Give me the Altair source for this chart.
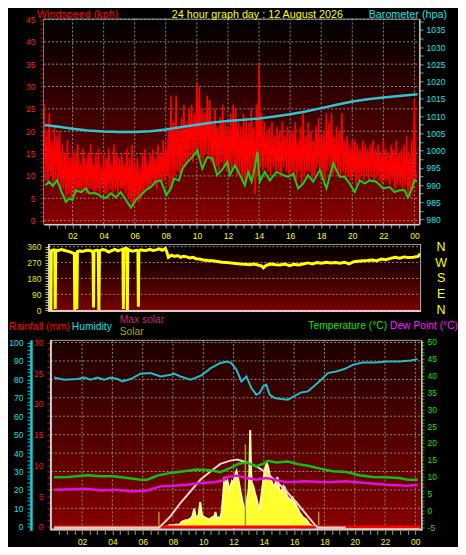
import altair as alt
import pandas as pd

FONT = "Liberation Sans"

# ---------------- panel 1 : wind speed (kph) and barometer (hPa) ----------------
# gust envelope, one high / low pair every 10 minutes (00:10 ... 24:00)
gust_hi = [
    26, 20, 24, 18, 21, 19,
    20, 17, 15, 18, 14, 16,
    15, 17, 13, 16, 14, 15,
    17, 13, 15, 16, 12, 15,
    14, 16, 13, 17, 15, 14,
    15, 13, 16, 14, 17, 13,
    14, 12, 15, 16, 13, 15,
    16, 14, 17, 15, 18, 16,
    20, 28, 22, 28, 21, 23,
    26, 22, 25, 26, 24, 31,
    30, 25, 24, 28, 27, 22,
    25, 21, 23, 26, 22, 21,
    24, 26, 25, 22, 21, 24,
    23, 22, 25, 21, 26, 35,
    24, 22, 20, 21, 22, 19,
    21, 20, 22, 19, 21, 20,
    20, 22, 18, 21, 24, 19,
    22, 20, 18, 21, 23, 19,
    20, 24, 22, 24, 19, 21,
    20, 24, 18, 19, 17, 18,
    18, 17, 16, 18, 17, 16,
    17, 18, 16, 17, 15, 18,
    16, 15, 17, 16, 18, 15,
    16, 17, 19, 15, 18, 27,
]
gust_lo = [
    9, 8, 10, 8, 9, 8,
    6, 7, 5, 6, 5, 6,
    6, 7, 6, 7, 6, 7,
    7, 6, 7, 6, 7, 6,
    6, 7, 6, 7, 6, 7,
    7, 6, 5, 4, 3, 5,
    4, 5, 6, 7, 7, 8,
    8, 7, 9, 8, 9, 10,
    7, 8, 10, 11, 10, 11,
    12, 13, 14, 13, 15, 14,
    14, 13, 15, 14, 13, 12,
    12, 11, 13, 12, 11, 12,
    11, 12, 10, 11, 9, 8,
    10, 9, 11, 6, 10, 12,
    11, 12, 11, 10, 12, 11,
    11, 10, 12, 11, 10, 11,
    10, 9, 11, 8, 10, 11,
    11, 9, 10, 12, 11, 10,
    9, 11, 12, 10, 11, 10,
    10, 11, 9, 10, 9, 10,
    8, 9, 10, 9, 10, 9,
    10, 9, 10, 9, 8, 9,
    9, 8, 9, 7, 8, 8,
    7, 8, 6, 5, 7, 9,
]
avg_t = [0.24, 0.5, 0.72, 1.0, 1.25, 1.57, 1.79, 2.0, 2.2, 2.54, 2.86, 3.07, 3.5, 3.82,
         4.14, 4.46, 4.79, 5.1, 5.43, 5.75, 6.07, 6.39, 6.71, 7.03, 7.35, 7.67, 8.04,
         8.32, 8.53, 8.85, 9.07, 9.39, 9.71, 10.03, 10.35, 10.67, 11.0, 11.3, 11.6,
         11.96, 12.13, 12.45, 12.77, 13.09, 13.3, 13.52, 13.73, 13.9, 14.05, 14.37,
         14.7, 15.12, 15.55, 15.88, 16.2, 16.52, 16.84, 17.16, 17.48, 17.91, 18.34,
         18.77, 19.19, 19.51, 19.83, 20.16, 20.48, 20.8, 21.12, 21.55, 21.98, 22.4,
         22.72, 23.04, 23.37, 23.58, 23.8, 24.0, 24.16]
avg_v = [7.9, 8.7, 7.7, 9.0, 6.8, 4.2, 5.0, 4.6, 6.8, 6.4, 7.2, 6.1, 6.1, 5.5,
         5.0, 6.1, 5.2, 6.4, 4.6, 2.9, 4.6, 5.7, 6.8, 7.5, 8.7, 9.0, 5.7,
         7.2, 9.4, 9.0, 11.6, 13.1, 14.2, 15.7, 11.6, 14.2, 13.9, 10.2, 11.3,
         13.1, 10.2, 12.4, 10.2, 7.9, 10.9, 8.7, 12.0, 15.4, 8.7, 10.9,
         9.0, 10.9, 10.2, 9.8, 10.5, 7.2, 8.3, 10.2, 8.7, 11.3, 7.2,
         12.8, 9.8, 9.8, 8.3, 6.4, 9.0, 8.3, 9.0, 8.7, 7.2, 7.5,
         6.4, 6.8, 6.8, 5.2, 6.8, 9.0, 8.7]
baro_t = [0.2, 1, 2, 3, 4, 5, 6, 7, 8, 9, 10, 11, 12, 13, 14, 15, 16, 17, 18, 19, 20,
          21, 22, 23, 24.2]
baro_v = [1007.4, 1007.0, 1006.3, 1005.8, 1005.5, 1005.4, 1005.4, 1005.6, 1006.1,
          1006.8, 1007.5, 1008.1, 1008.6, 1008.9, 1009.3, 1009.9, 1010.5, 1011.3,
          1012.3, 1013.3, 1014.2, 1014.9, 1015.4, 1015.8, 1016.3]

# ---------------- panel 2 : wind direction (degrees) ----------------
dir_pts = [
    (0.15, 338), (0.2, 336), (0.23, 0), (0.26, 338), (0.4, 342), (0.48, 336), (0.51, 7),
    (0.54, 340), (0.7, 338), (0.9, 344), (1.1, 340), (1.3, 335), (1.5, 330), (1.7, 322),
    (1.76, 318), (1.79, 0), (1.84, 330), (1.92, 7), (1.96, 332), (2.1, 336), (2.3, 333),
    (2.5, 338), (2.7, 340), (2.9, 335), (2.98, 320), (3.01, 15), (3.04, 335), (3.2, 340),
    (3.32, 338), (3.36, 0), (3.4, 336), (3.6, 344), (3.8, 340), (4.0, 330), (4.2, 338),
    (4.4, 345), (4.6, 336), (4.8, 342), (4.93, 346), (4.96, 7), (4.99, 344), (5.1, 350),
    (5.19, 348), (5.22, 0), (5.25, 346), (5.4, 338), (5.6, 334), (5.8, 340), (5.91, 338),
    (5.94, 20), (5.97, 335), (6.1, 342), (6.3, 338), (6.5, 340), (6.7, 345), (6.9, 338),
    (7.1, 342), (7.3, 348), (7.5, 340), (7.7, 350), (7.8, 330), (7.9, 300), (8.1, 312),
    (8.3, 305), (8.5, 310), (8.7, 300), (8.9, 306), (9.1, 302), (9.3, 296), (9.5, 300),
    (9.7, 292), (9.9, 290), (10.2, 285), (10.5, 282), (10.8, 280), (11.1, 276),
    (11.4, 272), (11.7, 270), (12.0, 268), (12.3, 265), (12.6, 262), (12.9, 260),
    (13.2, 258), (13.5, 262), (13.8, 255), (14.0, 250), (14.1, 240), (14.3, 255),
    (14.6, 262), (14.9, 258), (15.2, 256), (15.5, 262), (15.8, 252), (16.1, 260),
    (16.4, 256), (16.7, 262), (17.0, 268), (17.3, 262), (17.6, 270), (17.9, 266),
    (18.2, 272), (18.5, 268), (18.8, 270), (19.1, 266), (19.4, 272), (19.7, 262),
    (20.0, 275), (20.3, 278), (20.6, 280), (20.9, 282), (21.2, 285), (21.5, 280),
    (21.8, 290), (22.1, 286), (22.4, 294), (22.7, 300), (23.0, 295), (23.3, 302),
    (23.6, 298), (23.9, 300), (24.2, 305), (24.35, 320),
]
compass_deg = [360, 270, 180, 90, 0]
compass_lab = ["N", "W", "S", "E", "N"]

# ---------------- panel 3 : humidity, rain, solar, temperature, dew point ----------------
hum_pts = [
    (0.15, 81.0), (0.81, 79.8), (1.69, 80.2), (2.13, 81.0), (2.57, 79.8), (3.0, 81.0),
    (3.45, 79.8), (3.89, 81.0), (4.33, 80.2), (4.66, 78.9), (5.2, 80.2), (5.86, 83.1),
    (6.52, 83.4), (7.18, 81.6), (7.84, 82.5), (8.06, 83.1), (8.5, 81.6), (9.16, 79.8),
    (9.6, 81.2), (9.9, 82.3), (10.5, 86.1), (11.1, 88.8), (11.57, 89.7), (11.86, 88.8),
    (12.19, 85.2), (12.52, 78.9), (12.85, 81.6), (13.18, 75.3), (13.5, 71.7),
    (13.72, 72.6), (13.94, 76.2), (14.16, 77.1), (14.38, 71.7), (14.71, 69.9),
    (15.15, 69.3), (15.59, 69.0), (16.03, 71.1), (16.47, 72.9), (16.91, 73.5),
    (17.34, 76.5), (17.78, 79.8), (18.22, 83.4), (18.77, 84.3), (19.32, 85.6),
    (19.87, 87.9), (20.53, 89.2), (21.4, 89.2), (22.18, 89.7), (22.94, 89.7),
    (23.7, 90.3), (24.15, 91.0),
]
temp_pts = [
    (0.15, 9.8), (1.03, 9.9), (2.35, 10.4), (3.23, 10.1), (4.1, 10.1), (4.99, 9.6),
    (5.86, 9.1), (6.3, 9.1), (6.96, 10.3), (7.84, 11.1), (8.72, 11.6), (9.6, 12.1),
    (10.5, 11.9), (11.13, 11.3), (11.53, 12.1), (11.79, 12.6), (12.19, 13.5),
    (12.34, 13.8), (12.85, 14.2), (13.5, 13.0), (14.05, 14.0), (14.27, 14.7),
    (14.82, 14.2), (15.59, 14.5), (16.25, 13.7), (16.91, 13.2), (17.79, 12.3),
    (18.56, 11.6), (19.43, 11.4), (20.31, 10.4), (21.19, 9.9), (22.07, 9.8),
    (22.94, 9.6), (23.5, 9.1), (24.15, 9.1),
]
dew_pts = [
    (0.15, 6.1), (2.35, 6.4), (3.23, 5.9), (4.1, 6.1), (5.42, 5.6), (6.3, 5.9),
    (7.18, 7.1), (8.06, 7.3), (8.94, 7.6), (9.82, 8.1), (10.69, 8.3), (11.35, 8.9),
    (11.53, 9.9), (12.0, 10.1), (12.19, 10.3), (12.85, 9.6), (13.5, 9.1), (14.16, 9.6),
    (15.48, 8.3), (16.8, 8.6), (18.1, 8.3), (19.43, 8.6), (20.75, 8.1), (22.07, 7.6),
    (23.4, 7.3), (24.15, 7.5),
]
maxsolar_pts = [
    (0.15, 0), (7.07, 0), (7.5, 60), (7.84, 114), (8.5, 250), (9.16, 367), (9.82, 485),
    (10.5, 569), (11.13, 644), (11.79, 677), (12.25, 688), (12.85, 660), (13.5, 620),
    (14.16, 553), (14.82, 468), (15.48, 367), (16.14, 256), (16.8, 132), (17.34, 31),
    (17.57, 0), (19.4, 0),
]
solar_pts = [
    (0.15, 0), (7.05, 0), (7.6, 10), (7.8, 25), (8.0, 20), (8.2, 30), (8.4, 25), (8.6, 60),
    (8.8, 70), (9.0, 75), (9.2, 95), (9.3, 120), (9.4, 190), (9.5, 110), (9.6, 100),
    (9.7, 130), (9.8, 257), (9.9, 140), (10.0, 110), (10.2, 95), (10.4, 80), (10.6, 105),
    (10.7, 90), (10.8, 156), (10.9, 85), (11.0, 100), (11.1, 90), (11.2, 140),
    (11.3, 300), (11.4, 511), (11.5, 440), (11.6, 470), (11.7, 380), (11.8, 420),
    (11.9, 470), (12.0, 450), (12.1, 530), (12.2, 570), (12.3, 500), (12.4, 410),
    (12.5, 330), (12.6, 250), (12.7, 200), (12.8, 175), (12.9, 300), (13.0, 380),
    (13.05, 600), (13.1, 986), (13.15, 600), (13.2, 450), (13.3, 420), (13.4, 350),
    (13.5, 300), (13.6, 230), (13.7, 190), (13.8, 280), (13.9, 400), (14.0, 520),
    (14.1, 610), (14.2, 650), (14.3, 600), (14.4, 520), (14.5, 470), (14.6, 430),
    (14.7, 410), (14.8, 470), (14.9, 510), (15.0, 400), (15.1, 350), (15.2, 380),
    (15.3, 420), (15.4, 400), (15.5, 330), (15.6, 300), (15.7, 290), (15.8, 270),
    (15.9, 300), (16.0, 270), (16.1, 230), (16.2, 200), (16.3, 170), (16.4, 140),
    (16.5, 120), (16.6, 100), (16.8, 80), (17.0, 35), (17.2, 15), (17.45, 0), (24.3, 0),
]
olive_t = [7.07, 12.78, 17.62]
olive_v = [160, 840, 160]
rain_t = [0.15, 24.3]
rain_v = [0, 0]

# ---------------- ticks / grid ----------------
hour_ticks = [0.5 * k for k in range(1, 49)]
hour_grid = [2, 4, 6, 8, 10, 12, 14, 16, 18, 20, 22, 24]
wind_ticks = list(range(0, 46))
wind_grid = [0, 5, 10, 15, 20, 25, 30, 35, 40, 45]
baro_ticks = [980 + 2.5 * k for k in range(24)]
dir_ticks = list(range(0, 361, 15))
dir_grid = [0, 90, 180, 270, 360]
hum_ticks = list(range(0, 101, 2))
hum_grid = [10, 20, 30, 40, 50, 60, 70, 80, 90, 100]
rain_ticks = list(range(0, 31))
temp_ticks = list(range(-5, 51))

YEL = "#ffff00"
GRID = "#8c8c8c"
FRAME = "#d0d0d0"
XLAB = ("datum.value % 2 == 0 ? (datum.value == 24 ? '00' : "
        "(datum.value < 10 ? '0' + datum.value : '' + datum.value)) : ''")

one = pd.DataFrame({"k": [0]})


def pts_df(pts):
    return pd.DataFrame({"t": [p[0] for p in pts], "v": [p[1] for p in pts]})


def grad(top, bottom):
    return alt.LinearGradient(
        gradient="linear",
        stops=[alt.GradientStop(color=top, offset=0), alt.GradientStop(color=bottom, offset=1)],
        x1=0, x2=0, y1=0, y2=1)


def keep(n):
    return f"datum.value % {n} == 0 ? '' + datum.value : ''"


def yaxis(orient, ticks, every, lab_col, tick_col, offset=0, domain=False,
          dcol=FRAME, dwidth=2, tsize=4, pad=4):
    kw = dict(orient=orient, values=ticks, labelExpr=keep(every), labelColor=lab_col,
              tickColor=tick_col, tickSize=tsize, labelPadding=pad, offset=offset,
              grid=False, title=None, labelFont=FONT, labelFontSize=8.5,
              labelOverlap=False, labelFlush=False, domain=domain)
    if domain:
        kw.update(domainColor=dcol, domainWidth=dwidth)
    return alt.Axis(**kw)


def xaxis(domain):
    kw = dict(values=hour_ticks, labelExpr=XLAB, labelColor=YEL, tickColor="#9a9a9a",
              tickSize=4, labelPadding=3, grid=False, title=None, labelFont=FONT,
              labelFontSize=8.5, labelOverlap=False, labelFlush=False, domain=domain)
    if domain:
        kw.update(domainColor=FRAME, domainWidth=2)
    return alt.Axis(**kw)


def rule_h(y, x, x2, color, width):
    return alt.Chart(one).mark_rule(color=color, strokeWidth=width).encode(
        y=alt.value(y), x=alt.value(x), x2=alt.value(x2))


def rule_v(x, y, y2, color, width):
    return alt.Chart(one).mark_rule(color=color, strokeWidth=width).encode(
        x=alt.value(x), y=alt.value(y), y2=alt.value(y2))


def label(text, x, y, color, size, align="left", baseline="middle"):
    return alt.Chart(one).mark_text(text=text, color=color, font=FONT, fontSize=size,
                                    align=align, baseline=baseline).encode(
        x=alt.value(x), y=alt.value(y))


# ================= panel 1 =================
W1, H1 = 376, 206
X1 = alt.Scale(domain=[0.157, 24.30], nice=False, zero=False)
YW = alt.Scale(domain=[-0.78, 45.2], nice=False, zero=False)
YB = alt.Scale(domain=[978.67, 1038.26], nice=False, zero=False)
xax1 = xaxis(True)
yax_w = yaxis("left", wind_ticks, 5, "#ff2020", "#e00000", domain=True, pad=5)
yax_b = yaxis("right", baro_ticks, 5, "#20e0e0", "#20c8c8", domain=True, pad=3)

g_t, g_v = [], []
for i in range(len(gust_hi)):
    t = (i + 1) / 6
    g_t += [t, t + 1 / 12]
    g_v += [gust_hi[i], gust_lo[i]]
gust_df = pd.DataFrame({"t": g_t, "v": g_v})

bg1 = alt.Chart(one).mark_rect(color=grad("#000000", "#880000")).encode(
    x=alt.value(0), x2=alt.value(W1), y=alt.value(0), y2=alt.value(H1))
hg1 = alt.Chart(pd.DataFrame({"v": wind_grid})).mark_rule(
    color=GRID, strokeDash=[2, 2], strokeWidth=1).encode(
    y=alt.Y("v:Q", scale=YW, axis=yax_w), x=alt.value(0), x2=alt.value(W1))
vg1 = alt.Chart(pd.DataFrame({"h": hour_grid})).mark_rule(
    color=GRID, strokeDash=[2, 2], strokeWidth=1).encode(
    x=alt.X("h:Q", scale=X1, axis=xax1), y=alt.value(0), y2=alt.value(H1))
gust = alt.Chart(gust_df).mark_line(color="#ff0000", strokeWidth=1.5, clip=True).encode(
    x=alt.X("t:Q", scale=X1, axis=xax1), y=alt.Y("v:Q", scale=YW, axis=yax_w))
avg = alt.Chart(pd.DataFrame({"t": avg_t, "v": avg_v})).mark_line(
    color="#18d018", strokeWidth=2, clip=True).encode(
    x=alt.X("t:Q", scale=X1, axis=xax1), y=alt.Y("v:Q", scale=YW, axis=yax_w))
wind_layer = alt.layer(
    bg1, hg1, vg1, gust, avg,
    rule_h(0.5, 0, W1, "#a0a0a0", 1),
    label("Windspeed (kph)", -7, -10, "#ff0000", 10.8, "left", "top"),
    label("24 hour graph day : 12 August 2026", 214, -10, YEL, 10.8, "center", "top"),
    label("Barometer (hpa)", 404, -10, "#20e0e0", 10.8, "right", "top"),
)
baro = alt.Chart(pd.DataFrame({"t": baro_t, "v": baro_v})).mark_line(
    color="#30c4d0", strokeWidth=2.5, clip=True).encode(
    x=alt.X("t:Q", scale=X1, axis=xax1), y=alt.Y("v:Q", scale=YB, axis=yax_b))
p1 = alt.layer(wind_layer, baro).resolve_scale(y="independent").properties(width=W1, height=H1)

# ================= panel 2 =================
W2, H2 = 378, 76
X2 = alt.Scale(domain=[-0.228, 24.40], nice=False, zero=False)
YD = alt.Scale(domain=[-54.8, 374.7], nice=False, zero=False)
yax_d = yaxis("left", dir_ticks, 90, "#e8e800", "#c8c800", offset=-5, pad=4)

bg2 = alt.Chart(one).mark_rect(color=grad("#000000", "#780000")).encode(
    x=alt.value(5), x2=alt.value(W2), y=alt.value(0), y2=alt.value(68))
hg2 = alt.Chart(pd.DataFrame({"v": dir_grid})).mark_rule(
    color=GRID, strokeDash=[2, 2], strokeWidth=1).encode(
    y=alt.Y("v:Q", scale=YD, axis=yax_d), x=alt.value(5), x2=alt.value(W2))
dirline = alt.Chart(pts_df(dir_pts)).mark_line(color="#ffff00", strokeWidth=3, clip=True).encode(
    x=alt.X("t:Q", scale=X2, axis=None), y=alt.Y("v:Q", scale=YD, axis=yax_d))
compass = alt.Chart(pd.DataFrame({"deg": compass_deg, "lab": compass_lab})).mark_text(
    color=YEL, font=FONT, fontSize=12.5, align="center", baseline="middle").encode(
    y=alt.Y("deg:Q", scale=YD, axis=yax_d), x=alt.value(W2 + 20), text="lab:N")
p2 = alt.layer(
    bg2, hg2, dirline,
    rule_h(0.5, 5, W2, "#a0a0a0", 1),
    rule_v(5, 0, 68, FRAME, 2),
    rule_h(67, 5, W2, "#e8c4c4", 2),
    rule_v(W2 - 0.5, 0, 68, "#b0b0b0", 1),
    compass,
).properties(width=W2, height=H2)

# ================= panel 3 =================
W3, H3 = 378, 191
X3 = alt.Scale(domain=[-0.52, 24.38], nice=False, zero=False)
YH = alt.Scale(domain=[-2.0, 101.46], nice=False, zero=False)
YR = alt.Scale(domain=[-0.6, 30.41], nice=False, zero=False)
YT = alt.Scale(domain=[-5.98, 50.59], nice=False, zero=False)
YS = alt.Scale(domain=[-30, 1900], nice=False, zero=False)
xax3 = xaxis(False)
yax_h = yaxis("left", hum_ticks, 10, "#10e0e0", "#10d0d8", offset=13, domain=True,
              dcol="#10d0d8", dwidth=2.5, pad=4)
yax_r = yaxis("left", rain_ticks, 5, "#ff1010", "#e00000", offset=-7, pad=4)
yax_t = yaxis("right", temp_ticks, 5, "#10e010", "#10c010", domain=True, tsize=3, pad=3)

bg3 = alt.Chart(one).mark_rect(color=grad("#1c0000", "#880000")).encode(
    x=alt.value(7), x2=alt.value(W3), y=alt.value(0), y2=alt.value(H3))
hg3 = alt.Chart(pd.DataFrame({"v": hum_grid})).mark_rule(
    color=GRID, strokeDash=[2, 2], strokeWidth=1).encode(
    y=alt.Y("v:Q", scale=YH, axis=yax_h), x=alt.value(7), x2=alt.value(W3))
vg3 = alt.Chart(pd.DataFrame({"h": hour_grid})).mark_rule(
    color=GRID, strokeDash=[2, 2], strokeWidth=1).encode(
    x=alt.X("h:Q", scale=X3, axis=xax3), y=alt.value(0), y2=alt.value(H3))
hum = alt.Chart(pts_df(hum_pts)).mark_line(color="#20bcc8", strokeWidth=2, clip=True).encode(
    x=alt.X("t:Q", scale=X3, axis=xax3), y=alt.Y("v:Q", scale=YH, axis=yax_h))
L_h = alt.layer(
    bg3, hg3, vg3, hum,
    rule_h(0.5, 7, W3, "#a0a0a0", 1),
    rule_v(7, 0, H3, FRAME, 2),
    rule_h(H3 - 1, 7, W3, FRAME, 2),
    label("Rainfall (mm)", -35, -13, "#ff0000", 10.3),
    label("Humidity", 28, -13, "#10e0e0", 10.3),
    label("Max solar", 76, -20, "#c8286e", 10.3),
    label("Solar", 76, -8, "#a8a800", 10.3),
    label("Temperature (°C)", 344, -14, "#10e010", 10.3, "right"),
    label("Dew Point (°C)", 415, -14, "#ff20ff", 10.3, "right"),
)
solar = alt.Chart(pts_df(solar_pts)).mark_area(
    color="#ffff30", opacity=1, fillOpacity=1, clip=True,
    line={"color": "#ffffa0", "strokeWidth": 2}).encode(
    x=alt.X("t:Q", scale=X3, axis=xax3), y=alt.Y("v:Q", scale=YS, axis=None),
    y2=alt.datum(0))
olive = alt.Chart(pd.DataFrame({"t": olive_t, "v": olive_v})).mark_rule(
    color="#a89a20", strokeWidth=1.5).encode(
    x=alt.X("t:Q", scale=X3, axis=xax3), y=alt.Y("v:Q", scale=YS, axis=None),
    y2=alt.datum(0))
L_sol = alt.layer(solar, olive)
L_rain = alt.Chart(pd.DataFrame({"t": rain_t, "v": rain_v})).mark_line(
    color="#ff0000", strokeWidth=2.5, clip=True).encode(
    x=alt.X("t:Q", scale=X3, axis=xax3), y=alt.Y("v:Q", scale=YR, axis=yax_r))
L_max = alt.Chart(pts_df(maxsolar_pts)).mark_line(
    color="#f0d0d0", strokeWidth=2, clip=True).encode(
    x=alt.X("t:Q", scale=X3, axis=xax3), y=alt.Y("v:Q", scale=YS, axis=None))
temp = alt.Chart(pts_df(temp_pts)).mark_line(color="#10c010", strokeWidth=2.5, clip=True).encode(
    x=alt.X("t:Q", scale=X3, axis=xax3), y=alt.Y("v:Q", scale=YT, axis=yax_t))
dew = alt.Chart(pts_df(dew_pts)).mark_line(color="#e010e0", strokeWidth=2.5, clip=True).encode(
    x=alt.X("t:Q", scale=X3, axis=xax3), y=alt.Y("v:Q", scale=YT, axis=yax_t))
L_td = alt.layer(temp, dew)
p3 = alt.layer(L_h, L_sol, L_rain, L_max, L_td).resolve_scale(y="independent").properties(
    width=W3, height=H3)

chart = alt.vconcat(p1, p2, p3, spacing=20, bounds="flush", padding=0).configure(
    background="#000000").configure_view(strokeWidth=0)

chart.save("out.html", embed_options={"renderer": "svg", "actions": False})
